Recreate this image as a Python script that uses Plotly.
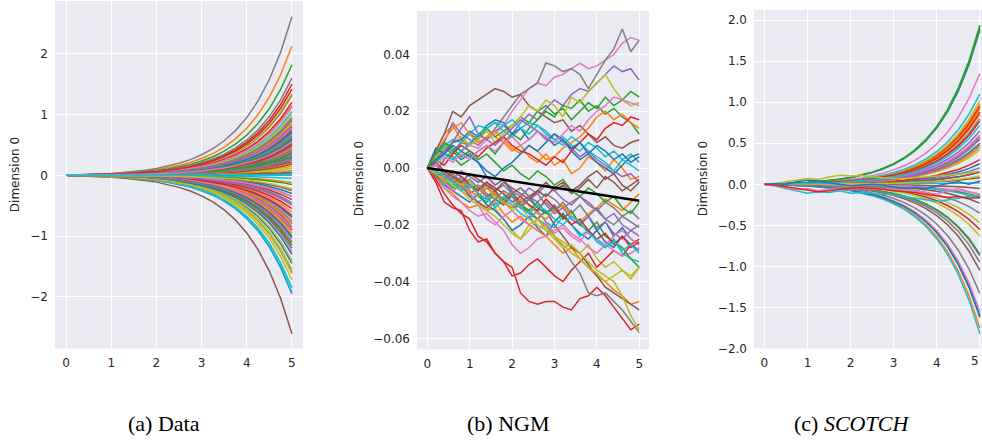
import plotly.graph_objects as go

W, H = 982, 444

# ---------------- data ----------------
tab10 = ["#1f77b4", "#ff7f0e", "#2ca02c", "#d62728", "#9467bd",
         "#8c564b", "#e377c2", "#7f7f7f", "#bcbd22", "#17becf"]

# time grid for smooth panels (a) and (c)
t_smooth = [0, 0.25, 0.5, 0.75, 1, 1.25, 1.5, 1.75, 2, 2.25, 2.5, 2.75,
            3, 3.25, 3.5, 3.75, 4, 4.25, 4.5, 4.75, 5]
# normalised growth profile (value / end value)
growth_profile = [0, 0.002, 0.0044, 0.0076, 0.0117, 0.017, 0.0236, 0.032,
                  0.043, 0.058, 0.076, 0.099, 0.13, 0.168, 0.218, 0.282,
                  0.364, 0.469, 0.604, 0.777, 1.0]

# (a) Data: end values at t=5 (tab10 colour cycle order)
data_end = [
    -1.95, 2.13, 1.82, 1.50, 0.65, -2.61, 0.40, 2.61, -1.72, -1.85,
    -1.45, 1.15, 0.60, 0.75, -1.10, 1.32, -1.25, 1.60, 1.35, 1.05,
    0.30, -0.60, -1.00, -0.90, 0.95, 0.80, -0.50, 0.50, 0.85, 0.90,
    0.25, -0.12, 0.70, -0.40, 0.55, -0.85, 0.62, -0.35, 1.00, -0.70,
    -0.30, 0.45, -1.20, 0.22, -0.75, 0.35, 0.78, -0.45, 0.15, 0.03,
    -1.60, 0.20, 0.90, -0.55, 0.42, -0.25, -1.05, 0.68, -1.55, -1.92,
    0.58, -0.95, 0.32, 1.20, -0.65, 0.48, 1.12, -0.80, -1.40, 0.00,
    -1.30, 0.88, -0.15, 0.52, 0.28, -1.15, -0.35, 0.92, 0.12, 0.02,
    0.72, -0.78, 0.38, -0.68, 0.82, 0.18, -0.88, 0.26, -1.62, -0.05,
    -1.02, 0.08, 0.62, 1.42, -0.48, 0.05, 0.55, -1.10, -0.22, 0.01,
]

# (b) NGM: sample paths (values in units of 1e-3), t = 0, 0.2, ..., 5
t_ngm = [0, 0.2, 0.4, 0.6, 0.8, 1.0, 1.2, 1.4, 1.6, 1.8, 2.0, 2.2, 2.4,
         2.6, 2.8, 3.0, 3.2, 3.4, 3.6, 3.8, 4.0, 4.2, 4.4, 4.6, 4.8, 5.0]
ngm_paths = [
    [0, 4, 8, 6, 3, 5, 2, -3, -6, -4, -9, -12, -10, -14, -16, -13, -18, -15, -20, -17, -22, -19, -24, -21, -25, -27],
    [0, 6, 12, 15, 10, 8, 12, 14, 11, 9, 6, 8, 4, 2, 5, 1, 3, -2, 0, 4, 2, -1, 3, 0, -4, -3],
    [0, 3, 7, 5, 9, 12, 10, 14, 11, 13, 15, 18, 16, 20, 22, 19, 21, 17, 20, 23, 21, 25, 22, 24, 27, 25],
    [0, -5, -12, -14, -15, -22, -26, -25, -30, -33, -35, -44, -47, -48, -47, -47, -49, -50, -46, -45, -42, -45, -49, -53, -57, -55],
    [0, 4, 9, 16, 12, 10, 8, 11, 13, 15, 12, 16, 19, 17, 21, 24, 22, 26, 28, 27, 30, 33, 36, 34, 35, 31],
    [0, 6, 12, 20, 18, 22, 24, 26, 28, 27, 25, 26, 22, 20, 18, 16, 17, 13, 15, 12, 9, 11, 8, 7, 9, 10],
    [0, 2, 5, 3, 6, 8, 7, 10, 12, 15, 20, 24, 28, 30, 29, 32, 33, 35, 37, 35, 36, 38, 40, 44, 46, 45],
    [0, -2, 3, 6, 9, 8, 12, 10, 14, 18, 22, 26, 28, 30, 37, 36, 34, 35, 33, 28, 33, 38, 42, 49, 41, 45],
    [0, 3, -2, -5, -8, -10, -12, -15, -14, -18, -22, -25, -20, -18, -22, -24, -26, -28, -30, -27, -32, -35, -33, -36, -38, -35],
    [0, 5, 8, 10, 9, 12, 15, 14, 16, 13, 11, 14, 16, 15, 12, 10, 11, 8, 6, 9, 7, 4, 6, 3, 5, 2],
    [0, -3, -6, -8, -10, -12, -9, -13, -15, -18, -22, -20, -17, -21, -24, -19, -16, -20, -23, -25, -22, -26, -28, -24, -27, -29],
    [0, -4, -7, -9, -12, -14, -13, -15, -12, -16, -19, -17, -20, -22, -24, -27, -30, -28, -32, -35, -38, -40, -43, -45, -48, -47],
    [0, 2, 5, 4, 1, 3, 6, 8, 5, 9, 12, 10, 14, 17, 20, 18, 22, 21, 24, 20, 22, 19, 21, 18, 16, 12],
    [0, -4, -9, -13, -16, -18, -24, -26, -30, -33, -38, -37, -34, -32, -35, -38, -40, -36, -33, -30, -35, -32, -29, -31, -27, -25],
    [0, -3, -1, -5, -8, -6, -9, -11, -8, -12, -10, -14, -11, -9, -13, -16, -14, -18, -20, -17, -21, -19, -23, -25, -22, -20],
    [0, -2, -5, -3, -6, -9, -7, -10, -8, -12, -14, -13, -16, -18, -15, -20, -24, -28, -30, -34, -38, -42, -44, -46, -48, -50],
    [0, -3, -7, -10, -12, -15, -17, -16, -19, -22, -27, -30, -28, -25, -24, -22, -20, -23, -25, -28, -30, -27, -29, -31, -30, -28],
    [0, -2, -4, -6, -3, -5, -8, -6, -10, -12, -9, -13, -15, -18, -20, -24, -28, -33, -37, -44, -45, -44, -47, -50, -54, -58],
    [0, 4, 7, 9, 11, 8, 10, 13, 9, 12, 15, 18, 22, 20, 24, 22, 18, 25, 23, 27, 30, 33, 28, 24, 22, 23],
    [0, -3, -6, -4, -7, -9, -12, -10, -14, -11, -13, -16, -18, -15, -19, -21, -17, -20, -24, -22, -26, -28, -25, -30, -32, -33],
    [0, 7, 5, 9, 10, 13, 11, 15, 17, 16, 12, 14, 10, 13, 11, 8, 10, 6, 3, 5, 2, 0, -2, 1, 4, 5],
    [0, 5, 10, 14, 16, 12, 9, 11, 13, 10, 7, 5, 8, 6, 3, 4, 7, 9, 11, 14, 18, 20, 17, 19, 16, 14],
    [0, -2, -4, -7, -5, -8, -10, -12, -9, -11, -8, -13, -15, -12, -16, -14, -18, -15, -20, -22, -19, -24, -26, -28, -32, -35],
    [0, 3, 1, 5, 8, 6, 4, 7, 9, 11, 8, 6, 5, 3, 1, 4, 2, 6, 9, 12, 10, 14, 16, 15, 18, 17],
    [0, 2, 6, 9, 14, 18, 12, 10, 8, 11, 14, 17, 15, 13, 10, 12, 9, 7, 4, 6, 3, 1, -1, -3, -2, -5],
    [0, -3, -5, -8, -6, -10, -12, -14, -11, -13, -9, -7, -10, -8, -5, -8, -6, -9, -7, -4, -7, -3, -5, -8, -6, -4],
    [0, -2, -5, -8, -6, -9, -13, -18, -20, -17, -15, -18, -20, -22, -19, -23, -21, -24, -26, -22, -25, -27, -24, -22, -25, -27],
    [0, -1, -3, -2, -5, -4, -7, -5, -8, -6, -9, -7, -10, -12, -9, -11, -14, -12, -10, -13, -15, -12, -14, -17, -15, -18],
    [0, -2, -1, -4, -6, -5, -8, -7, -10, -12, -15, -13, -18, -20, -22, -25, -28, -27, -30, -33, -36, -38, -40, -45, -52, -57],
    [0, 2, 5, 3, 6, 9, 12, 14, 16, 15, 17, 14, 12, 15, 13, 10, 8, 11, 9, 6, 4, 2, -1, 3, 1, -1],
    [0, 3, 5, 8, 6, 4, 2, -1, -3, 0, 2, 5, 8, 6, 9, 12, 10, 7, 9, 5, 8, 6, 3, 5, 2, 4],
    [0, -2, -5, -3, -6, -8, -10, -7, -9, -12, -14, -11, -13, -16, -18, -15, -13, -17, -19, -16, -14, -11, -13, -15, -12, -9],
    [0, 5, 9, 7, 4, 6, 3, 5, 2, -1, 1, -2, -4, -1, -3, -6, -4, -8, -10, -7, -9, -12, -10, -14, -16, -12],
    [0, -2, -4, -1, -3, -6, -8, -5, -7, -9, -12, -10, -13, -15, -11, -14, -17, -20, -18, -22, -25, -23, -27, -24, -28, -26],
    [0, 1, -2, -4, -1, -3, -5, -3, -6, -4, -8, -10, -7, -9, -6, -8, -11, -13, -10, -12, -15, -18, -16, -20, -22, -24],
    [0, 2, -1, -3, -5, -2, -4, -6, -8, -5, -7, -9, -11, -8, -10, -7, -5, -8, -6, -3, -1, -4, -2, -6, -8, -5],
    [0, 1, 4, 2, 5, 3, 6, 8, 6, 9, 11, 8, 10, 13, 11, 9, 12, 15, 13, 17, 20, 22, 25, 24, 23, 22],
    [0, -3, -2, -5, -4, -7, -6, -9, -11, -8, -10, -13, -11, -14, -12, -15, -12, -16, -13, -17, -14, -18, -20, -17, -19, -21],
    [0, -2, -4, -6, -8, -11, -13, -15, -17, -20, -23, -25, -22, -18, -21, -24, -27, -30, -32, -35, -37, -40, -38, -36, -39, -35],
    [0, -1, -3, -5, -8, -6, -9, -11, -13, -10, -12, -14, -16, -13, -15, -18, -20, -17, -19, -23, -25, -28, -26, -29, -27, -30],
]
ngm_mean_t = [0, 5]
ngm_mean = [0.0, -0.0115]

# (c) SCOTCH: end values at t=5 for the smooth curves
scotch_end = [
    1.88, 0.98, 1.94, 0.95, 0.65, -1.05, 1.35, 0.80, 1.02, 1.10,
    0.25, -1.75, 0.50, 0.77, -0.87, 0.08, 0.55, -1.33, -0.47, -1.82,
    -1.60, 0.92, -0.85, 0.30, 0.20, -0.23, -1.55, 0.58, 0.42, 0.02,
    0.15, 0.45, -0.15, -0.55, 0.48, -0.05, 0.60, -0.35, -0.63, -0.17,
    -1.62, 0.85, 1.91, 0.88, 0.55, 0.15, -0.12, -0.95, 0.10, 0.72,
]
# (c) SCOTCH: wiggly curves near zero (values on t_smooth)
scotch_wiggle_colors = ["#bcbd22", "#17becf", "#e377c2", "#1f77b4", "#d62728"]
scotch_wiggles = [
    [0, 0.01, 0.03, 0.05, 0.07, 0.06, 0.09, 0.11, 0.10, 0.11, 0.09, 0.08, 0.07, 0.07, 0.08, 0.09, 0.10, 0.11, 0.12, 0.14, 0.16],
    [0, -0.02, -0.05, -0.08, -0.11, -0.09, -0.10, -0.08, -0.11, -0.10, -0.11, -0.12, -0.13, -0.15, -0.17, -0.19, -0.21, -0.19, -0.17, -0.15, -0.14],
    [0, -0.02, -0.04, -0.07, -0.05, -0.08, -0.06, -0.05, -0.07, -0.04, -0.06, -0.05, -0.07, -0.06, -0.08, -0.10, -0.12, -0.08, -0.05, -0.09, -0.12],
    [0, 0.01, 0.00, 0.03, 0.05, 0.04, 0.02, 0.00, -0.02, -0.01, 0.00, -0.01, -0.03, -0.05, -0.04, -0.05, -0.02, 0.01, 0.03, 0.00, 0.04],
    [0, -0.01, -0.03, -0.05, -0.07, -0.09, -0.08, -0.06, -0.05, -0.04, -0.05, -0.06, -0.08, -0.09, -0.10, -0.12, -0.14, -0.16, -0.15, -0.17, -0.16],
]

captions = ["(a) Data", "(b) NGM", "(c) <i>SCOTCH</i>"]
y_title = "Dimension 0"
x_ticks = [0, 1, 2, 3, 4, 5]
a_yticks = [-2, -1, 0, 1, 2]
b_yticks = [-0.06, -0.04, -0.02, 0.0, 0.02, 0.04]
c_yticks = [-2.0, -1.5, -1.0, -0.5, 0.0, 0.5, 1.0, 1.5, 2.0]

# ---------------- figure ----------------
fig = go.Figure()
LW = 1.5

for i, e in enumerate(data_end):
    fig.add_trace(go.Scatter(x=t_smooth, y=[e * p for p in growth_profile],
                             mode="lines", line=dict(color=tab10[i % 10], width=LW),
                             xaxis="x", yaxis="y", hoverinfo="skip"))

for i, path in enumerate(ngm_paths):
    fig.add_trace(go.Scatter(x=t_ngm, y=[v / 1000 for v in path],
                             mode="lines", line=dict(color=tab10[i % 10], width=LW),
                             xaxis="x2", yaxis="y2", hoverinfo="skip"))
fig.add_trace(go.Scatter(x=ngm_mean_t, y=ngm_mean, mode="lines",
                         line=dict(color="black", width=2.6),
                         xaxis="x2", yaxis="y2", hoverinfo="skip"))

for i, e in enumerate(scotch_end):
    fig.add_trace(go.Scatter(x=t_smooth, y=[e * p for p in growth_profile],
                             mode="lines", line=dict(color=tab10[i % 10], width=LW),
                             xaxis="x3", yaxis="y3", hoverinfo="skip"))
for c, w in zip(scotch_wiggle_colors, scotch_wiggles):
    fig.add_trace(go.Scatter(x=t_smooth, y=w, mode="lines",
                             line=dict(color=c, width=LW),
                             xaxis="x3", yaxis="y3", hoverinfo="skip"))


def px_x(p):
    return p / W


def px_y(p):
    return 1 - p / H


tickfont = dict(family="DejaVu Sans", size=12, color="#262626")
common_x = dict(showgrid=True, gridcolor="white", gridwidth=1, zeroline=False,
                showline=False, ticks="", tickvals=x_ticks, tickfont=tickfont,
                ticklabelstandoff=6)
common_y = dict(showgrid=True, gridcolor="white", gridwidth=1, zeroline=False,
                showline=False, ticks="", tickfont=tickfont, ticklabelstandoff=6)

fig.update_layout(
    width=W, height=H, margin=dict(l=0, r=0, t=0, b=0),
    paper_bgcolor="white", plot_bgcolor="#EAEAF2", showlegend=False,
    xaxis=dict(domain=[px_x(55), px_x(303)], range=[-0.245, 5.245], anchor="y", **common_x),
    yaxis=dict(domain=[px_y(354), px_y(1)], range=[-2.85, 2.87], anchor="x",
               tickvals=a_yticks, **common_y),
    xaxis2=dict(domain=[px_x(417), px_x(649)], range=[-0.243, 5.23], anchor="y2", **common_x),
    yaxis2=dict(domain=[px_y(355), px_y(11)], range=[-0.0639, 0.0554], anchor="x2",
                tickvals=b_yticks, tickformat=".2f", **common_y),
    xaxis3=dict(domain=[px_x(754), 1.0], range=[-0.24, 5.05], anchor="y3", **common_x),
    yaxis3=dict(domain=[px_y(354), px_y(10)], range=[-2.0, 2.126], anchor="x3",
                tickvals=c_yticks, tickformat=".1f", **common_y),
)

annotations = []
for xc, yc in [(15, 178), (359, 182), (703, 182)]:
    annotations.append(dict(text=y_title, x=px_x(xc), y=px_y(yc), xref="paper", yref="paper",
                            showarrow=False, textangle=-90, xanchor="center", yanchor="middle",
                            font=dict(family="DejaVu Sans", size=12, color="#262626")))
for cap, xc in zip(captions, [164, 508, 851]):
    annotations.append(dict(text=cap, x=px_x(xc), y=px_y(430), xref="paper", yref="paper",
                            showarrow=False, xanchor="center", yanchor="middle",
                            font=dict(family="Liberation Serif", size=22, color="black")))
# tick label "5" of panel (c) sits at the page edge; drawn as text kept inside the page
annotations.append(dict(text="5", x=1.0, y=-2.0, xref="paper", yref="y3", showarrow=False,
                        xanchor="right", yanchor="top", yshift=-4, xshift=-1,
                        font=tickfont))
fig.update_layout(annotations=annotations)

fig.write_html("out.html", config={"displayModeBar": False},
               post_script="document.body.style.margin='0';document.body.style.overflow='hidden';")
